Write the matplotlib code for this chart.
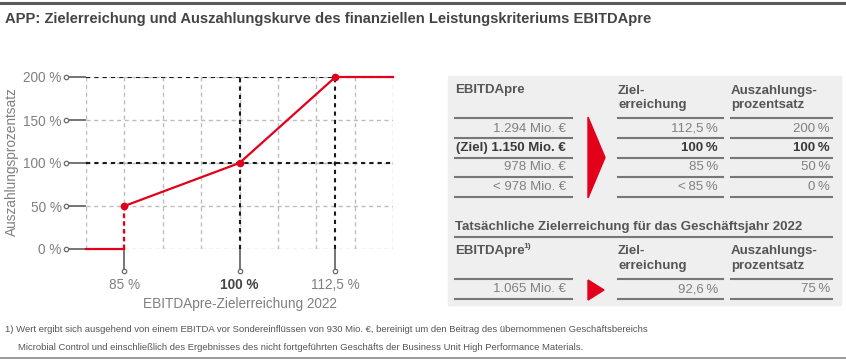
import numpy as np
import matplotlib
matplotlib.use('Agg')
import matplotlib.pyplot as plt
from matplotlib.patches import Rectangle, Polygon
from matplotlib.lines import Line2D
import matplotlib.transforms as mtransforms

plt.rcParams['font.family'] = ['Liberation Sans', 'DejaVu Sans']

W, H = 846, 364
RED = '#e2001a'
GRAY_TXT = '#808080'
DARK = '#444444'

# chart data
curve_x = [85, 100, 112.5, 120]
curve_y = [50, 100, 200, 200]
zero_x = [80, 85]
zero_y = [0, 0]
grid_x = [80, 85, 90, 95, 100, 105, 110, 115, 120]
grid_y = [0, 50, 100, 150, 200]
xticks = [85, 100, 112.5]
xticklabels = ['85 %', '100 %', '112,5 %']
yticklabels = ['0 %', '50 %', '100 %', '150 %', '200 %']

# table data
tab_ebitda = ['1.294 Mio. €', '(Ziel) 1.150 Mio. €', '978 Mio. €', '< 978 Mio. €']
tab_ziel = ['112,5\u2009%', '100\u2009%', '85\u2009%', '<\u200985\u2009%']
tab_payout = ['200\u2009%', '100\u2009%', '50\u2009%', '0\u2009%']
bold_row = 1
act_ebitda = '1.065 Mio. €'
act_ziel = '92,6\u2009%'
act_payout = '75\u2009%'

title = 'APP: Zielerreichung und Auszahlungskurve des finanziellen Leistungskriteriums EBITDApre'
foot1 = '1) Wert ergibt sich ausgehend von einem EBITDA vor Sondereinflüssen von 930 Mio. €, bereinigt um den Beitrag des übernommenen Geschäftsbereichs'
foot2 = 'Microbial Control und einschließlich des Ergebnisses des nicht fortgeführten Geschäfts der Business Unit High Performance Materials.'


def fx(x):
    return x / W


def fy(y):
    return 1 - y / H


fig = plt.figure(figsize=(W / 100, H / 100), dpi=100)

# rules and title
fig.add_artist(Line2D([fx(0), fx(846)], [fy(3), fy(3)], color='#5a5a5a', lw=2.2))
fig.add_artist(Line2D([fx(0), fx(846)], [fy(358), fy(358)], color='#8a8a8a', lw=1.2))
fig.text(fx(5), fy(19), title, fontsize=10.6, fontweight='bold', color=DARK,
         va='center', ha='left')

# chart
ax = fig.add_axes([fx(86), fy(249), (393 - 86) / W, (249 - 77) / H])
ax.set_xlim(80, 120)
ax.set_ylim(0, 200)
for s in ax.spines.values():
    s.set_visible(False)
for gx in grid_x:
    ax.axvline(gx, color='#bdbdbd', lw=1.0, dashes=(3, 2.5), zorder=1)
for gy in grid_y:
    ax.axhline(gy, color='#bdbdbd', lw=1.0, dashes=(3, 2.5), zorder=1)
# reference lines
ax.axhline(100, color='#1a1a1a', lw=1.5, dashes=(2, 2), zorder=2)
ax.plot([80, 112.5], [200, 200], color='#1a1a1a', lw=1.5, dashes=(2, 2), zorder=2)
ax.axvline(100, color='#1a1a1a', lw=1.5, dashes=(2, 2), zorder=2)
ax.axvline(112.5, color='#1a1a1a', lw=1.5, dashes=(2, 2), zorder=2)

ax.plot(zero_x, zero_y, color=RED, lw=1.6, zorder=3, clip_on=False)
ax.plot([curve_x[0], curve_x[0]], [zero_y[-1], curve_y[0]], color=RED, lw=1.6,
        dashes=(2, 1.5), zorder=3)
ax.plot(curve_x, curve_y, color=RED, lw=1.6, zorder=3, clip_on=False)
ax.plot(curve_x[:3], curve_y[:3], 'o', color=RED, ms=4.5, zorder=4, clip_on=False)

ax.set_yticks(grid_y)
ax.set_yticklabels(yticklabels)
ax.set_xticks(xticks)
ax.set_xticklabels(xticklabels)
ax.tick_params(axis='y', length=14.4, width=1.3, color='#6a6a6a', pad=3,
               labelsize=9.8, labelcolor=GRAY_TXT)
ax.tick_params(axis='x', length=15.8, width=1.3, color='#6a6a6a', pad=5,
               labelsize=9.8, labelcolor=GRAY_TXT)
lb = ax.get_xticklabels()[1]
lb.set_fontweight('bold')
lb.set_color(DARK)

# small circles at tick ends
ty = mtransforms.blended_transform_factory(ax.transAxes, ax.transData)
ax.plot(np.full(len(grid_y), -20 / 307), grid_y, 'o', ms=3.2, mfc='white',
        mec='#6a6a6a', mew=0.9, transform=ty, clip_on=False, zorder=5)
tx = mtransforms.blended_transform_factory(ax.transData, ax.transAxes)
ax.plot(xticks, np.full(len(xticks), -22 / 172), 'o', ms=3.2, mfc='white',
        mec='#6a6a6a', mew=0.9, transform=tx, clip_on=False, zorder=5)

fig.text(fx(240), fy(304), 'EBITDApre-Zielerreichung 2022', fontsize=9.8,
         color=GRAY_TXT, ha='center', va='center')
fig.text(fx(12), fy(162), 'Auszahlungsprozentsatz', fontsize=9.8, color=GRAY_TXT,
         ha='center', va='center', rotation=90)

# table panel
fig.add_artist(Rectangle((fx(448), fy(305)), (841 - 448) / W, (305 - 76) / H,
                         transform=fig.transFigure, color='#efefef', zorder=0))

c1 = (455, 572)
c2 = (618, 723)
c3 = (731, 832)
LINE = '#777777'


def hline(x0, x1, y, lw=1.5):
    fig.add_artist(Line2D([fx(x0), fx(x1)], [fy(y), fy(y)], color=LINE, lw=lw))


hfs = 9.5
HCOL = '#555555'
fig.text(fx(c1[0]), fy(90), 'EBITDApre', fontsize=hfs, fontweight='bold', color=HCOL, va='center')
fig.text(fx(c2[0]), fy(91), 'Ziel-', fontsize=hfs, fontweight='bold', color=HCOL, va='center')
fig.text(fx(c2[0]), fy(105), 'erreichung', fontsize=hfs, fontweight='bold', color=HCOL, va='center')
fig.text(fx(c3[0]), fy(91), 'Auszahlungs-', fontsize=hfs, fontweight='bold', color=HCOL, va='center')
fig.text(fx(c3[0]), fy(105), 'prozentsatz', fontsize=hfs, fontweight='bold', color=HCOL, va='center')

row_y = [128.5, 148, 167.5, 187]
line_y = [118, 138, 157.5, 177, 196.5]
for ly in line_y:
    for c in (c1, c2, c3):
        hline(c[0], c[1], ly)
for i, ry in enumerate(row_y):
    wt = 'bold' if i == bold_row else 'normal'
    col = '#3a3a3a' if i == bold_row else GRAY_TXT
    fig.text(fx(566), fy(ry), tab_ebitda[i], fontsize=hfs, fontweight=wt, color=col, ha='right', va='center')
    fig.text(fx(718), fy(ry), tab_ziel[i], fontsize=hfs, fontweight=wt, color=col, ha='right', va='center')
    fig.text(fx(830), fy(ry), tab_payout[i], fontsize=hfs, fontweight=wt, color=col, ha='right', va='center')

fig.add_artist(Polygon([(fx(588), fy(117)), (fx(605), fy(157.5)), (fx(588), fy(198))],
                       closed=True, transform=fig.transFigure, color=RED))

# actual achievement
fig.text(fx(c1[0]), fy(227), 'Tatsächliche Zielerreichung für das Geschäftsjahr 2022',
         fontsize=hfs, fontweight='bold', color=HCOL, va='center')
hline(c1[0], c3[1], 237)
fig.text(fx(c1[0]), fy(251), 'EBITDApre', fontsize=hfs, fontweight='bold', color=HCOL, va='center')
fig.text(fx(523), fy(247), '1)', fontsize=6, fontweight='bold', color=HCOL, va='center')
fig.text(fx(c2[0]), fy(251), 'Ziel-', fontsize=hfs, fontweight='bold', color=HCOL, va='center')
fig.text(fx(c2[0]), fy(266), 'erreichung', fontsize=hfs, fontweight='bold', color=HCOL, va='center')
fig.text(fx(c3[0]), fy(251), 'Auszahlungs-', fontsize=hfs, fontweight='bold', color=HCOL, va='center')
fig.text(fx(c3[0]), fy(266), 'prozentsatz', fontsize=hfs, fontweight='bold', color=HCOL, va='center')
for ly in (279, 299):
    for c in (c1, c2, c3):
        hline(c[0], c[1], ly)
fig.text(fx(566), fy(289), act_ebitda, fontsize=hfs, color=GRAY_TXT, ha='right', va='center')
fig.text(fx(718), fy(289), act_ziel, fontsize=hfs, color=GRAY_TXT, ha='right', va='center')
fig.text(fx(830), fy(289), act_payout, fontsize=hfs, color=GRAY_TXT, ha='right', va='center')
fig.add_artist(Polygon([(fx(588), fy(280)), (fx(604), fy(290)), (fx(588), fy(300))],
                       closed=True, transform=fig.transFigure, color=RED))

# footnote
fig.text(fx(5), fy(330), foot1, fontsize=6.8, color='#555555', va='center')
fig.text(fx(18), fy(347), foot2, fontsize=6.8, color='#555555', va='center')

fig.savefig('out.png', dpi=100)
